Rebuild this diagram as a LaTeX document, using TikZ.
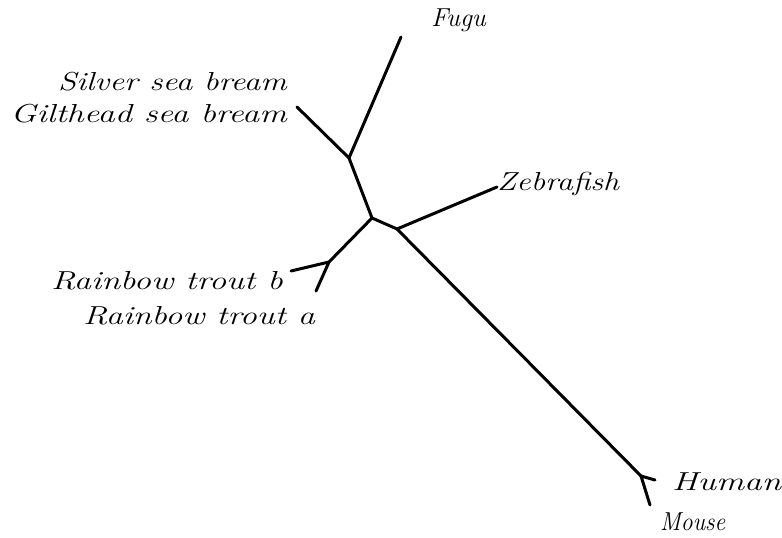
\documentclass[tikz,border=0pt]{standalone}
\newcommand{\wlbl}[2]{\scalebox{#1}[1]{#2}}
\begin{document}
\begin{tikzpicture}[x=1pt,y=-1pt,
  branch/.style={line width=3pt,line cap=round,line join=round,black},
  lbl/.style={font=\fontsize{26}{29}\selectfont\itshape,inner sep=0pt}]
\useasboundingbox[fill=white] (0,0) rectangle (782,538);
% internal nodes
\coordinate (A) at (349,158);
\coordinate (B) at (372,218);
\coordinate (C) at (397,229);
\coordinate (D) at (641,476);
\coordinate (E) at (329,262);
% tips
\coordinate (fugu) at (401,37);
\coordinate (bream) at (297,107);
\coordinate (zebra) at (497,187);
\coordinate (human) at (655,480);
\coordinate (mouse) at (650,505);
\coordinate (troutb) at (291,271);
\coordinate (trouta) at (316,291);
% branches
\draw[branch] (fugu) -- (A) -- (B) -- (C) -- (D);
\draw[branch] (bream) -- (A);
\draw[branch] (C) -- (zebra);
\draw[branch] (human) -- (D) -- (mouse);
\draw[branch] (B) -- (E);
\draw[branch] (troutb) -- (E) -- (trouta);
% labels
\node[lbl,anchor=west] (lfugu) at (431,20) {\wlbl{1.02}{Fugu}};
\node[lbl,anchor=east] (lsilver) at (287,82) {\wlbl{1.27}{Silver sea bream}};
\node[lbl,anchor=east] (lgilt) at (287,114) {\wlbl{1.32}{Gilthead sea bream}};
\node[lbl,anchor=west] (lzebra) at (497,184) {\wlbl{1.23}{Zebrafish}};
\node[lbl,anchor=east] (ltroutb) at (283,281) {\wlbl{1.32}{Rainbow trout b}};
\node[lbl,anchor=east] (ltrouta) at (315,316) {\wlbl{1.31}{Rainbow trout a}};
\node[lbl,anchor=west] (lhuman) at (672,482) {\wlbl{1.35}{Human}};
\node[lbl,anchor=west] (lmouse) at (660,522) {\wlbl{0.91}{Mouse}};
\end{tikzpicture}
\end{document}
